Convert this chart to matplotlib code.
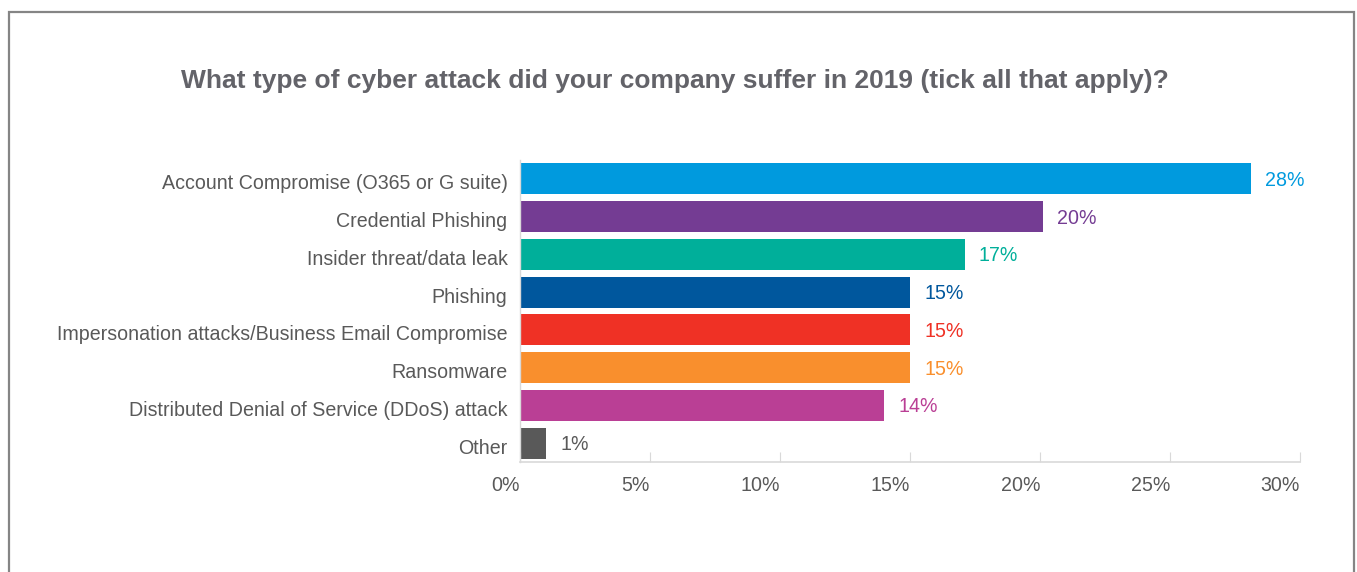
import matplotlib.pyplot as plt
from matplotlib.patches import Rectangle
from matplotlib.ticker import FuncFormatter
from matplotlib.transforms import ScaledTranslation

# data
categories = [
    "Account Compromise (O365 or G suite)",
    "Credential Phishing",
    "Insider threat/data leak",
    "Phishing",
    "Impersonation attacks/Business Email Compromise",
    "Ransomware",
    "Distributed Denial of Service (DDoS) attack",
    "Other",
]
values = [28.1, 20.1, 17.1, 15.0, 15.0, 15.0, 14.0, 1.0]
value_labels = ["28%", "20%", "17%", "15%", "15%", "15%", "14%", "1%"]
colors = ["#009ADE", "#743C93", "#00AF9A", "#00579D",
          "#EF3125", "#F98F2D", "#BA3F95", "#595959"]
xticks = [0, 5, 10, 15, 20, 25, 30]

text_gray = "#595959"
plt.rcParams['font.family'] = ['Liberation Sans', 'DejaVu Sans']

fig = plt.figure(figsize=(13.57, 5.72), dpi=100)
ax = fig.add_axes([520 / 1357, 1 - 462 / 572, 780 / 1357, 302 / 572])

y = list(range(len(categories)))
ax.barh(y, values, height=0.82, color=colors)
ax.set_ylim(len(categories) - 0.5, -0.5)
ax.set_xlim(0, 30)

down1 = ax.transData + ScaledTranslation(0, -1.5 / 100, fig.dpi_scale_trans)
for yi, v, lab, c in zip(y, values, value_labels, colors):
    ax.text(v + 0.55, yi, lab, color=c, va='center', ha='left', fontsize=14.1,
            transform=down1)

ax.set_yticks(y)
ax.set_yticklabels(categories, fontsize=14.1, color=text_gray)
ax.tick_params(axis='y', length=0, pad=9)
for lbl in ax.get_yticklabels():
    lbl.set_transform(lbl.get_transform() + ScaledTranslation(0, -3 / 100, fig.dpi_scale_trans))

ax.set_xticks(xticks)
ax.xaxis.set_major_formatter(FuncFormatter(lambda v, p: f"{v:.0f}%"))
ax.tick_params(axis='x', direction='in', length=7, color='#d9d9d9',
               labelsize=14.1, labelcolor=text_gray, pad=10)
for lbl in ax.get_xticklabels():
    lbl.set_ha('right')

for s in ['top', 'right']:
    ax.spines[s].set_visible(False)
ax.spines['bottom'].set_color('#d9d9d9')
ax.spines['bottom'].set_linewidth(1.2)
ax.spines['left'].set_color('#d9d9d9')
ax.spines['left'].set_linewidth(1.0)

fig.text(675 / 1357, 1 - 81 / 572, "What type of cyber attack did your company suffer in 2019 (tick all that apply)?",
         ha='center', va='center', fontsize=19, fontweight='bold', color='#636369')

# outer frame (open at bottom of the crop)
fig.add_artist(Rectangle((9 / 1357, -0.05), 1345 / 1357, 1.05 - 12 / 572,
                         transform=fig.transFigure, fill=False,
                         edgecolor='#858585', linewidth=1.6))

fig.savefig("out.png", dpi=100)
